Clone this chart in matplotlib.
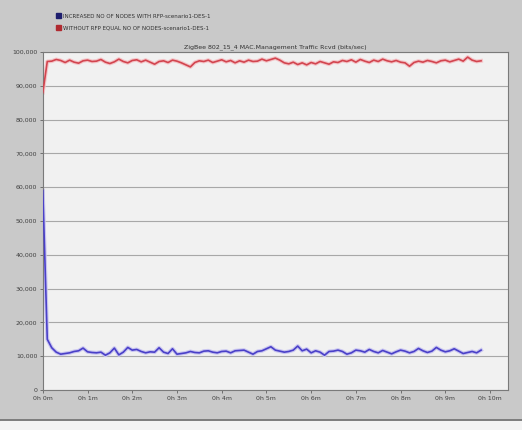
import numpy as np
import matplotlib
matplotlib.use("Agg")
import matplotlib.pyplot as plt
from matplotlib.lines import Line2D
from matplotlib.patches import Rectangle

# time in minutes, one sample each 0.1 min
time_min = [i / 10 for i in range(99)]

# traffic received, thousands of bits/sec
with_rfp = [59.0, 15.0, 12.5, 11.2, 10.6, 10.8, 11.0, 11.4, 11.6, 12.4,
            11.3, 11.1, 11.0, 11.2, 10.3, 11.0, 12.4, 10.4, 11.2, 12.6,
            11.8, 12.0, 11.4, 11.0, 11.3, 11.2, 12.5, 11.2, 10.8, 12.2,
            10.6, 10.8, 11.0, 11.4, 11.1, 11.0, 11.5, 11.6, 11.2, 11.0,
            11.4, 11.5, 11.0, 11.6, 11.7, 11.8, 11.2, 10.6, 11.4, 11.6,
            12.2, 12.8, 11.8, 11.5, 11.2, 11.4, 11.8, 13.0, 11.6, 12.1,
            11.0, 11.6, 11.2, 10.3, 11.4, 11.5, 11.8, 11.4, 10.6, 11.0,
            11.8, 11.6, 11.2, 12.0, 11.4, 11.0, 11.7, 11.2, 10.7, 11.3,
            11.8, 11.5, 11.0, 11.4, 12.3, 11.6, 11.1, 11.5, 12.6, 11.8,
            11.3, 11.6, 12.2, 11.5, 10.8, 11.1, 11.4, 11.0, 11.8]

without_rfp = [88.0, 97.2, 97.3, 97.8, 97.5, 96.9, 97.6, 97.0, 96.7, 97.4,
               97.6, 97.2, 97.3, 97.8, 97.0, 96.6, 97.1, 97.9, 97.2, 96.8,
               97.5, 97.7, 97.1, 97.6, 97.0, 96.4, 97.2, 97.4, 96.9, 97.6,
               97.3, 96.8, 96.2, 95.6, 96.9, 97.4, 97.2, 97.6, 96.9, 97.3,
               97.7, 97.1, 97.5, 96.8, 97.4, 97.0, 97.6, 97.2, 97.3, 97.9,
               97.4, 97.8, 98.2, 97.6, 96.8, 96.5, 97.0, 96.3, 96.8, 96.2,
               96.9, 96.5, 97.2, 96.8, 96.4, 97.1, 96.9, 97.5, 97.2, 97.7,
               97.0, 97.8, 97.3, 96.9, 97.6, 97.2, 97.9, 97.4, 97.1, 97.5,
               97.0, 96.8, 95.8, 96.9, 97.3, 97.0, 97.5, 97.2, 96.8, 97.4,
               97.6, 97.1, 97.5, 97.9, 97.3, 98.5, 97.6, 97.2, 97.4]

y_ticks = [0, 10000, 20000, 30000, 40000, 50000, 60000, 70000, 80000, 90000, 100000]
y_labels = ["0", "10,000", "20,000", "30,000", "40,000", "50,000",
            "60,000", "70,000", "80,000", "90,000", "100,000"]
x_ticks = list(range(11))
x_labels = ["0h 0m", "0h 1m", "0h 2m", "0h 3m", "0h 4m", "0h 5m",
            "0h 6m", "0h 7m", "0h 8m", "0h 9m", "0h 10m"]

series_names = ["INCREASED NO OF NODES WITH RFP-scenario1-DES-1",
                "WITHOUT RFP EQUAL NO OF NODES-scenario1-DES-1"]
title = "ZigBee 802_15_4 MAC.Management Traffic Rcvd (bits/sec)"

fig = plt.figure(figsize=(5.22, 4.30), dpi=100)
fig.patch.set_facecolor("#c9c9c9")

ax = fig.add_axes([0.082, 0.093, 0.891, 0.786])
ax.set_facecolor("#f1f1f1")

blue = "#4a40c8"
red = "#d2454f"
t = np.array(time_min)
# soft halo under the lines, like the blurry screenshot
ax.plot(t, np.array(with_rfp) * 1000, color="#c8c4f0", lw=2.8, zorder=2)
ax.plot(t, np.array(without_rfp) * 1000, color="#f4c4c8", lw=2.8, zorder=2)
ax.plot(t, np.array(with_rfp) * 1000, color=blue, lw=1.2, zorder=3)
ax.plot(t, np.array(without_rfp) * 1000, color=red, lw=1.2, zorder=3)

ax.set_xlim(0, 10.4)
ax.set_ylim(0, 100000)
ax.set_yticks(y_ticks)
ax.set_yticklabels(y_labels, fontsize=4.5, color="#404040")
ax.set_xticks(x_ticks)
ax.set_xticklabels(x_labels, fontsize=4.5, color="#404040")
ax.tick_params(length=2, width=0.6, color="#606060", pad=2)
ax.yaxis.grid(True, color="#a8a8a8", lw=0.8)
ax.set_axisbelow(True)
for s in ax.spines.values():
    s.set_color("#7a7a7a")
    s.set_linewidth(0.8)

ax.set_title(title, fontsize=4.5, color="#303030", pad=3)

# legend in the top left corner
fig.add_artist(Rectangle((56 / 522, 1 - 18 / 430), 5 / 522, 5 / 430,
                         transform=fig.transFigure, color="#1e1e6e"))
fig.add_artist(Rectangle((56 / 522, 1 - 30 / 430), 5 / 522, 5 / 430,
                         transform=fig.transFigure, color="#b02a30"))
fig.text(63 / 522, 1 - 16 / 430, series_names[0], fontsize=4, va="center", color="#303030")
fig.text(63 / 522, 1 - 28 / 430, series_names[1], fontsize=4, va="center", color="#303030")

# frame lines of the window
fig.add_artist(Line2D([0, 1], [1 - 420 / 430, 1 - 420 / 430],
                      transform=fig.transFigure, color="#707070", lw=1.2))
fig.add_artist(Rectangle((0, 0), 1, 1 - 421 / 430, transform=fig.transFigure,
                         color="#f4f4f4"))

fig.savefig("out.png", dpi=100, facecolor=fig.get_facecolor())
